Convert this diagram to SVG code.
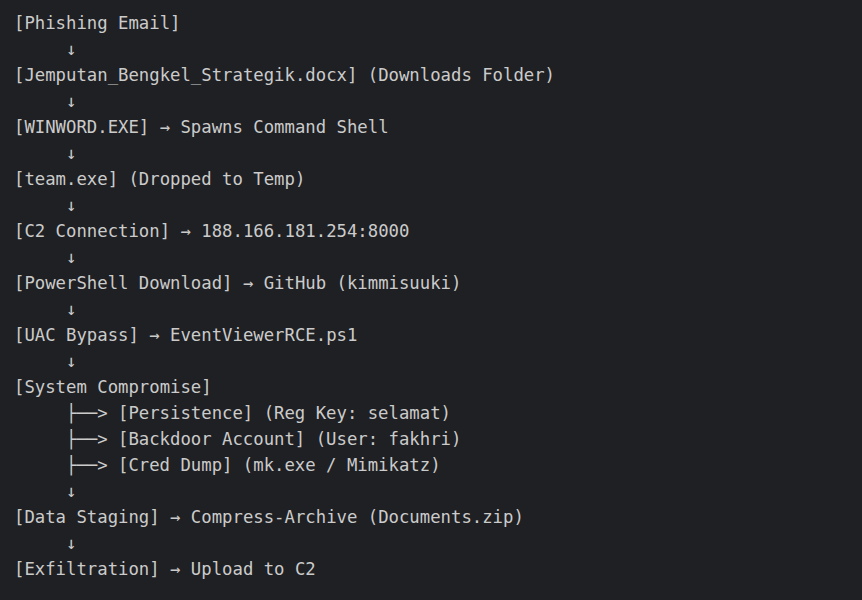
<svg xmlns="http://www.w3.org/2000/svg" width="862" height="600" viewBox="0 0 862 600">
<style>
text{font-family:"DejaVu Sans Mono","Liberation Mono",monospace;font-size:17.3px;fill:#cbcbcb;white-space:pre}
</style>
<rect width="862" height="600" fill="#1f2023"/>
<g id="connectors">
<text x="14" y="55" xml:space="preserve">     ↓</text>
<text x="14" y="107" xml:space="preserve">     ↓</text>
<text x="14" y="159" xml:space="preserve">     ↓</text>
<text x="14" y="211" xml:space="preserve">     ↓</text>
<text x="14" y="263" xml:space="preserve">     ↓</text>
<text x="14" y="315" xml:space="preserve">     ↓</text>
<text x="14" y="367" xml:space="preserve">     ↓</text>
<text x="14" y="419" xml:space="preserve">     ├──&gt;</text>
<text x="14" y="445" xml:space="preserve">     ├──&gt;</text>
<text x="14" y="471" xml:space="preserve">     ├──&gt;</text>
<text x="14" y="497" xml:space="preserve">     ↓</text>
<text x="14" y="549" xml:space="preserve">     ↓</text>
</g>
<g id="n1"><text x="14" y="29">[Phishing Email]</text></g>
<g id="n2"><text x="14" y="81">[Jemputan_Bengkel_Strategik.docx] (Downloads Folder)</text></g>
<g id="n3"><text x="14" y="133">[WINWORD.EXE] → Spawns Command Shell</text></g>
<g id="n4"><text x="14" y="185">[team.exe] (Dropped to Temp)</text></g>
<g id="n5"><text x="14" y="237">[C2 Connection] → 188.166.181.254:8000</text></g>
<g id="n6"><text x="14" y="289">[PowerShell Download] → GitHub (kimmisuuki)</text></g>
<g id="n7"><text x="14" y="341">[UAC Bypass] → EventViewerRCE.ps1</text></g>
<g id="n8"><text x="14" y="393">[System Compromise]</text></g>
<g id="n9"><text x="118" y="419">[Persistence] (Reg Key: selamat)</text></g>
<g id="n10"><text x="118" y="445">[Backdoor Account] (User: fakhri)</text></g>
<g id="n11"><text x="118" y="471">[Cred Dump] (mk.exe / Mimikatz)</text></g>
<g id="n12"><text x="14" y="523">[Data Staging] → Compress-Archive (Documents.zip)</text></g>
<g id="n13"><text x="14" y="575">[Exfiltration] → Upload to C2</text></g>
</svg>
